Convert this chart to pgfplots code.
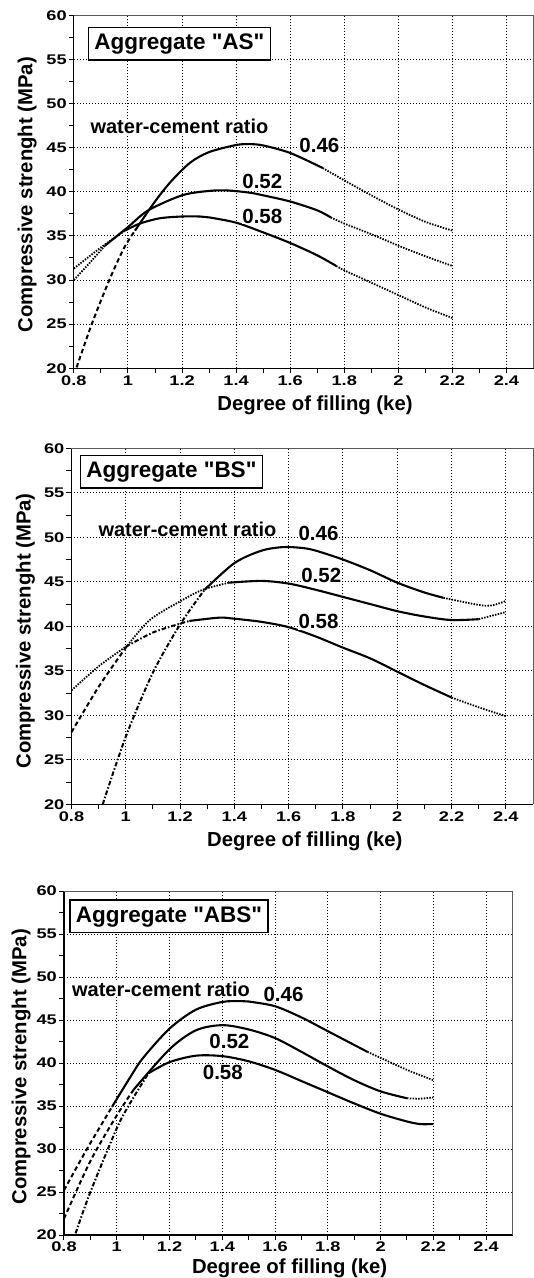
\documentclass[border=0pt]{standalone}
\usepackage{fontspec}
\setmainfont{Liberation Sans}
\newfontfamily\tickfontfam[FakeStretch=1.3, UprightFont={* Bold}]{Liberation Sans}
\newfontfamily\boxfam[Ligatures=TeXOff]{Liberation Sans}
\usepackage{pgfplots}
\pgfplotsset{compat=1.18}
\newcommand\tickfont{\tickfontfam\fontsize{14}{16}\selectfont}
\newcommand\labfont{\bfseries\fontsize{20.3}{24}\selectfont}
\newcommand\boxfont{\boxfam\bfseries\fontsize{22.5}{26}\selectfont}
\newcommand\wcfont{\bfseries\fontsize{20}{24}\selectfont}
\newcommand\numfont{\bfseries\fontsize{20.5}{24}\selectfont}
\pgfplotsset{
 mystyle/.style={
  scale only axis, xmin=0.8, xmax=2.5, ymin=20, ymax=60,
  axis x line*=bottom, axis y line*=left,
  axis line style={line width=1.2pt,-},
  xtick={0.8,1,1.2,1.4,1.6,1.8,2,2.2,2.4},
  minor xtick={0.9,1.1,1.3,1.5,1.7,1.9,2.1,2.3},
  ytick={20,25,30,35,40,45,50,55,60},
  minor ytick={22.5,27.5,32.5,37.5,42.5,47.5,52.5,57.5},
  grid=major,
  major grid style={black, line width=1pt, dash pattern=on 1pt off 2pt},
  tick align=outside,
  major tick length=5pt, minor tick length=5pt,
  tick style={black, line width=1pt},
  minor tick style={black, line width=1pt},
  ticklabel style={font=\tickfont},
  /pgf/number format/assume math mode=true,
  xticklabel style={inner sep=2pt},
  yticklabel style={inner sep=2pt},
  label style={font=\labfont},
  xlabel={Degree of filling (ke)},
  ylabel={Compressive strenght (MPa)},
  clip=false,
 },
 sol/.style={black, line width=2.1pt, smooth},
 dsh/.style={black, line width=2pt, smooth, dash pattern=on 4.5pt off 3pt},
 dot/.style={black, line width=1.8pt, smooth, dash pattern=on 1.5pt off 1.3pt},
 dd/.style={black, line width=2pt, smooth, dash pattern=on 4.5pt off 2pt on 1.5pt off 2pt},
}
\tikzset{
 lab/.style={font=\numfont, fill=white, inner sep=0.5pt},
 wc/.style={font=\wcfont, fill=white, inner sep=0.5pt, anchor=west},
 bx/.style={draw, line width=1.5pt, fill=white, inner xsep=6pt, inner ysep=6pt, text height=16pt, text depth=4.5pt, font=\boxfont},
}
\begin{document}
\begin{tikzpicture}[x=1pt,y=1pt]
\useasboundingbox (0,0) rectangle (534,1278);
% ---------------- Panel 1: AS
\begin{axis}[mystyle, at={(73.9pt,909.7pt)}, anchor=south west, width=459.6pt, height=353pt,
  xlabel style={at={(axis description cs:0.5246,-0.105)},anchor=center},
  ylabel style={at={(axis description cs:-0.1016,0.492)},anchor=center}]
\draw[black!65, line width=1pt] (rel axis cs:0,1) -- (rel axis cs:1,1) -- (rel axis cs:1,0);
% 0.46
\addplot[dsh] coordinates {(0.81,20.1) (0.866,25) (0.931,30) (0.985,33.6) (1.026,35.6)};
\addplot[sol] coordinates {(1.026,35.6) (1.1,38.9) (1.16,41.2) (1.23,43.3) (1.3,44.5) (1.4,45.3) (1.45,45.4) (1.5,45.25) (1.6,44.4) (1.72,42.7)};
\addplot[dot] coordinates {(1.72,42.7) (1.8,41.3) (1.9,39.6) (2.0,38.0) (2.1,36.6) (2.2,35.6)};
% 0.52
\addplot[dot] coordinates {(0.8,30.0) (0.86,32.0) (0.915,33.9)};
\addplot[sol] coordinates {(0.915,33.9) (1.0,36.0) (1.075,37.9) (1.2,39.6) (1.3,40.1) (1.37,40.15) (1.45,39.9) (1.5,39.6) (1.6,38.9) (1.7,37.9) (1.75,37.1)};
\addplot[dot] coordinates {(1.75,37.1) (1.8,36.4) (1.9,35.2) (2.0,33.9) (2.1,32.7) (2.2,31.6)};
% 0.58
\addplot[dot] coordinates {(0.8,31.3) (0.9,33.7) (0.989,35.6)};
\addplot[sol] coordinates {(0.989,35.6) (1.044,36.4) (1.118,37.0) (1.2,37.2) (1.266,37.2) (1.3,37.1) (1.4,36.5) (1.5,35.4) (1.6,34.2) (1.7,32.8) (1.77,31.6)};
\addplot[dot] coordinates {(1.77,31.6) (1.8,31.1) (1.9,29.7) (2.0,28.3) (2.1,26.9) (2.2,25.7)};
\node[bx] at (axis cs:1.19,56.79) {Aggregate "AS"};
\node[wc] at (axis cs:0.859,47.4) {water-cement ratio};
\node[lab] at (axis cs:1.708,45.27) {0.46};
\node[lab] at (axis cs:1.497,41.2) {0.52};
\node[lab] at (axis cs:1.497,37.2) {0.58};
\end{axis}
% ---------------- Panel 2: BS
\begin{axis}[mystyle, at={(71.5pt,473.7pt)}, anchor=south west, width=461.5pt, height=356pt,
  xlabel style={at={(axis description cs:0.5055,-0.104)},anchor=center},
  ylabel style={at={(axis description cs:-0.0997,0.487)},anchor=center}]
\draw[black!65, line width=1pt] (rel axis cs:0,1) -- (rel axis cs:1,1) -- (rel axis cs:1,0);
% 0.46
\addplot[dd] coordinates {(0.915,20) (1.0,27.6) (1.1,34.8) (1.2,40.2) (1.29,44.1)};
\addplot[sol] coordinates {(1.29,44.1) (1.4,47.1) (1.5,48.5) (1.58,48.9) (1.65,48.8) (1.7,48.5) (1.8,47.5) (1.9,46.3) (2.0,44.9) (2.1,43.8) (2.17,43.2)};
\addplot[dot] coordinates {(2.17,43.2) (2.3,42.4) (2.35,42.35) (2.4,42.85)};
% 0.52
\addplot[dsh] coordinates {(0.8,28.1) (0.9,33.2) (1.0,37.6)};
\addplot[dot] coordinates {(1.0,37.6) (1.088,40.7) (1.2,42.8) (1.283,44.1) (1.38,44.9)};
\addplot[sol] coordinates {(1.38,44.9) (1.5,45.1) (1.6,44.8) (1.7,44.1) (1.8,43.3) (1.9,42.5) (2.0,41.7) (2.1,41.1) (2.2,40.7) (2.3,40.8)};
\addplot[dot] coordinates {(2.3,40.8) (2.4,41.6)};
% 0.58
\addplot[dot] coordinates {(0.8,32.8) (0.9,35.5) (1.0,37.7)};
\addplot[dd] coordinates {(1.0,37.7) (1.1,39.3) (1.2,40.3) (1.234,40.6)};
\addplot[sol] coordinates {(1.234,40.6) (1.344,40.97) (1.4,40.85) (1.5,40.5) (1.6,39.9) (1.7,38.85) (1.8,37.6) (1.9,36.4) (2.0,34.9) (2.1,33.4) (2.2,32.0)};
\addplot[dot] coordinates {(2.2,32.0) (2.3,30.9) (2.4,29.9)};
\node[bx] at (axis cs:1.168,57.34) {Aggregate "BS"};
\node[wc] at (axis cs:0.897,50.9) {water-cement ratio};
\node[lab] at (axis cs:1.71,50.45) {0.46};
\node[lab] at (axis cs:1.72,45.76) {0.52};
\node[lab] at (axis cs:1.71,40.5) {0.58};
\end{axis}
% ---------------- Panel 3: ABS
\begin{axis}[mystyle, at={(64pt,43pt)}, anchor=south west, width=448.5pt, height=344pt,
  xlabel style={at={(axis description cs:0.503,-0.096)},anchor=center},
  ylabel style={at={(axis description cs:-0.0957,0.489)},anchor=center}]
\draw[black!65, line width=1pt] (rel axis cs:0,1) -- (rel axis cs:1,1) -- (rel axis cs:1,0);
% 0.46
\addplot[dsh] coordinates {(0.8,25.2) (0.887,30.0) (0.982,34.9)};
\addplot[sol] coordinates {(0.982,34.9) (1.05,38.3) (1.1,40.6) (1.2,44.0) (1.3,46.2) (1.4,47.1) (1.47,47.2) (1.5,47.15) (1.6,46.6) (1.7,45.3) (1.8,43.7) (1.9,42.1) (1.95,41.3)};
\addplot[dot] coordinates {(1.95,41.3) (2.0,40.6) (2.1,39.2) (2.2,38.0)};
% 0.52
\addplot[dsh] coordinates {(0.8,21.9) (0.9,28.6) (1.0,33.9) (1.064,36.9)};
\addplot[sol] coordinates {(1.064,36.9) (1.2,41.6) (1.3,43.8) (1.4,44.4) (1.5,43.9) (1.6,42.9) (1.7,41.3) (1.8,39.6) (1.9,38.0) (2.0,36.7) (2.1,35.9)};
\addplot[dot] coordinates {(2.1,35.9) (2.15,35.85) (2.2,36.0)};
% 0.58
\addplot[dd] coordinates {(0.844,20.2) (0.9,25.0) (1.0,32.4) (1.05,35.3) (1.12,38.8)};
\addplot[sol] coordinates {(1.12,38.8) (1.2,40.1) (1.3,40.85) (1.4,40.8) (1.5,40.2) (1.6,39.2) (1.7,37.9) (1.8,36.6) (1.9,35.3) (2.0,34.1) (2.1,33.2) (2.15,32.9) (2.2,32.9)};
\node[bx] at (axis cs:1.198,57.06) {Aggregate "ABS"};
\node[wc] at (axis cs:0.828,48.6) {water-cement ratio};
\node[lab] at (axis cs:1.632,48.0) {0.46};
\node[lab] at (axis cs:1.427,42.56) {0.52};
\node[lab] at (axis cs:1.402,38.9) {0.58};
\end{axis}
\end{tikzpicture}
\end{document}
